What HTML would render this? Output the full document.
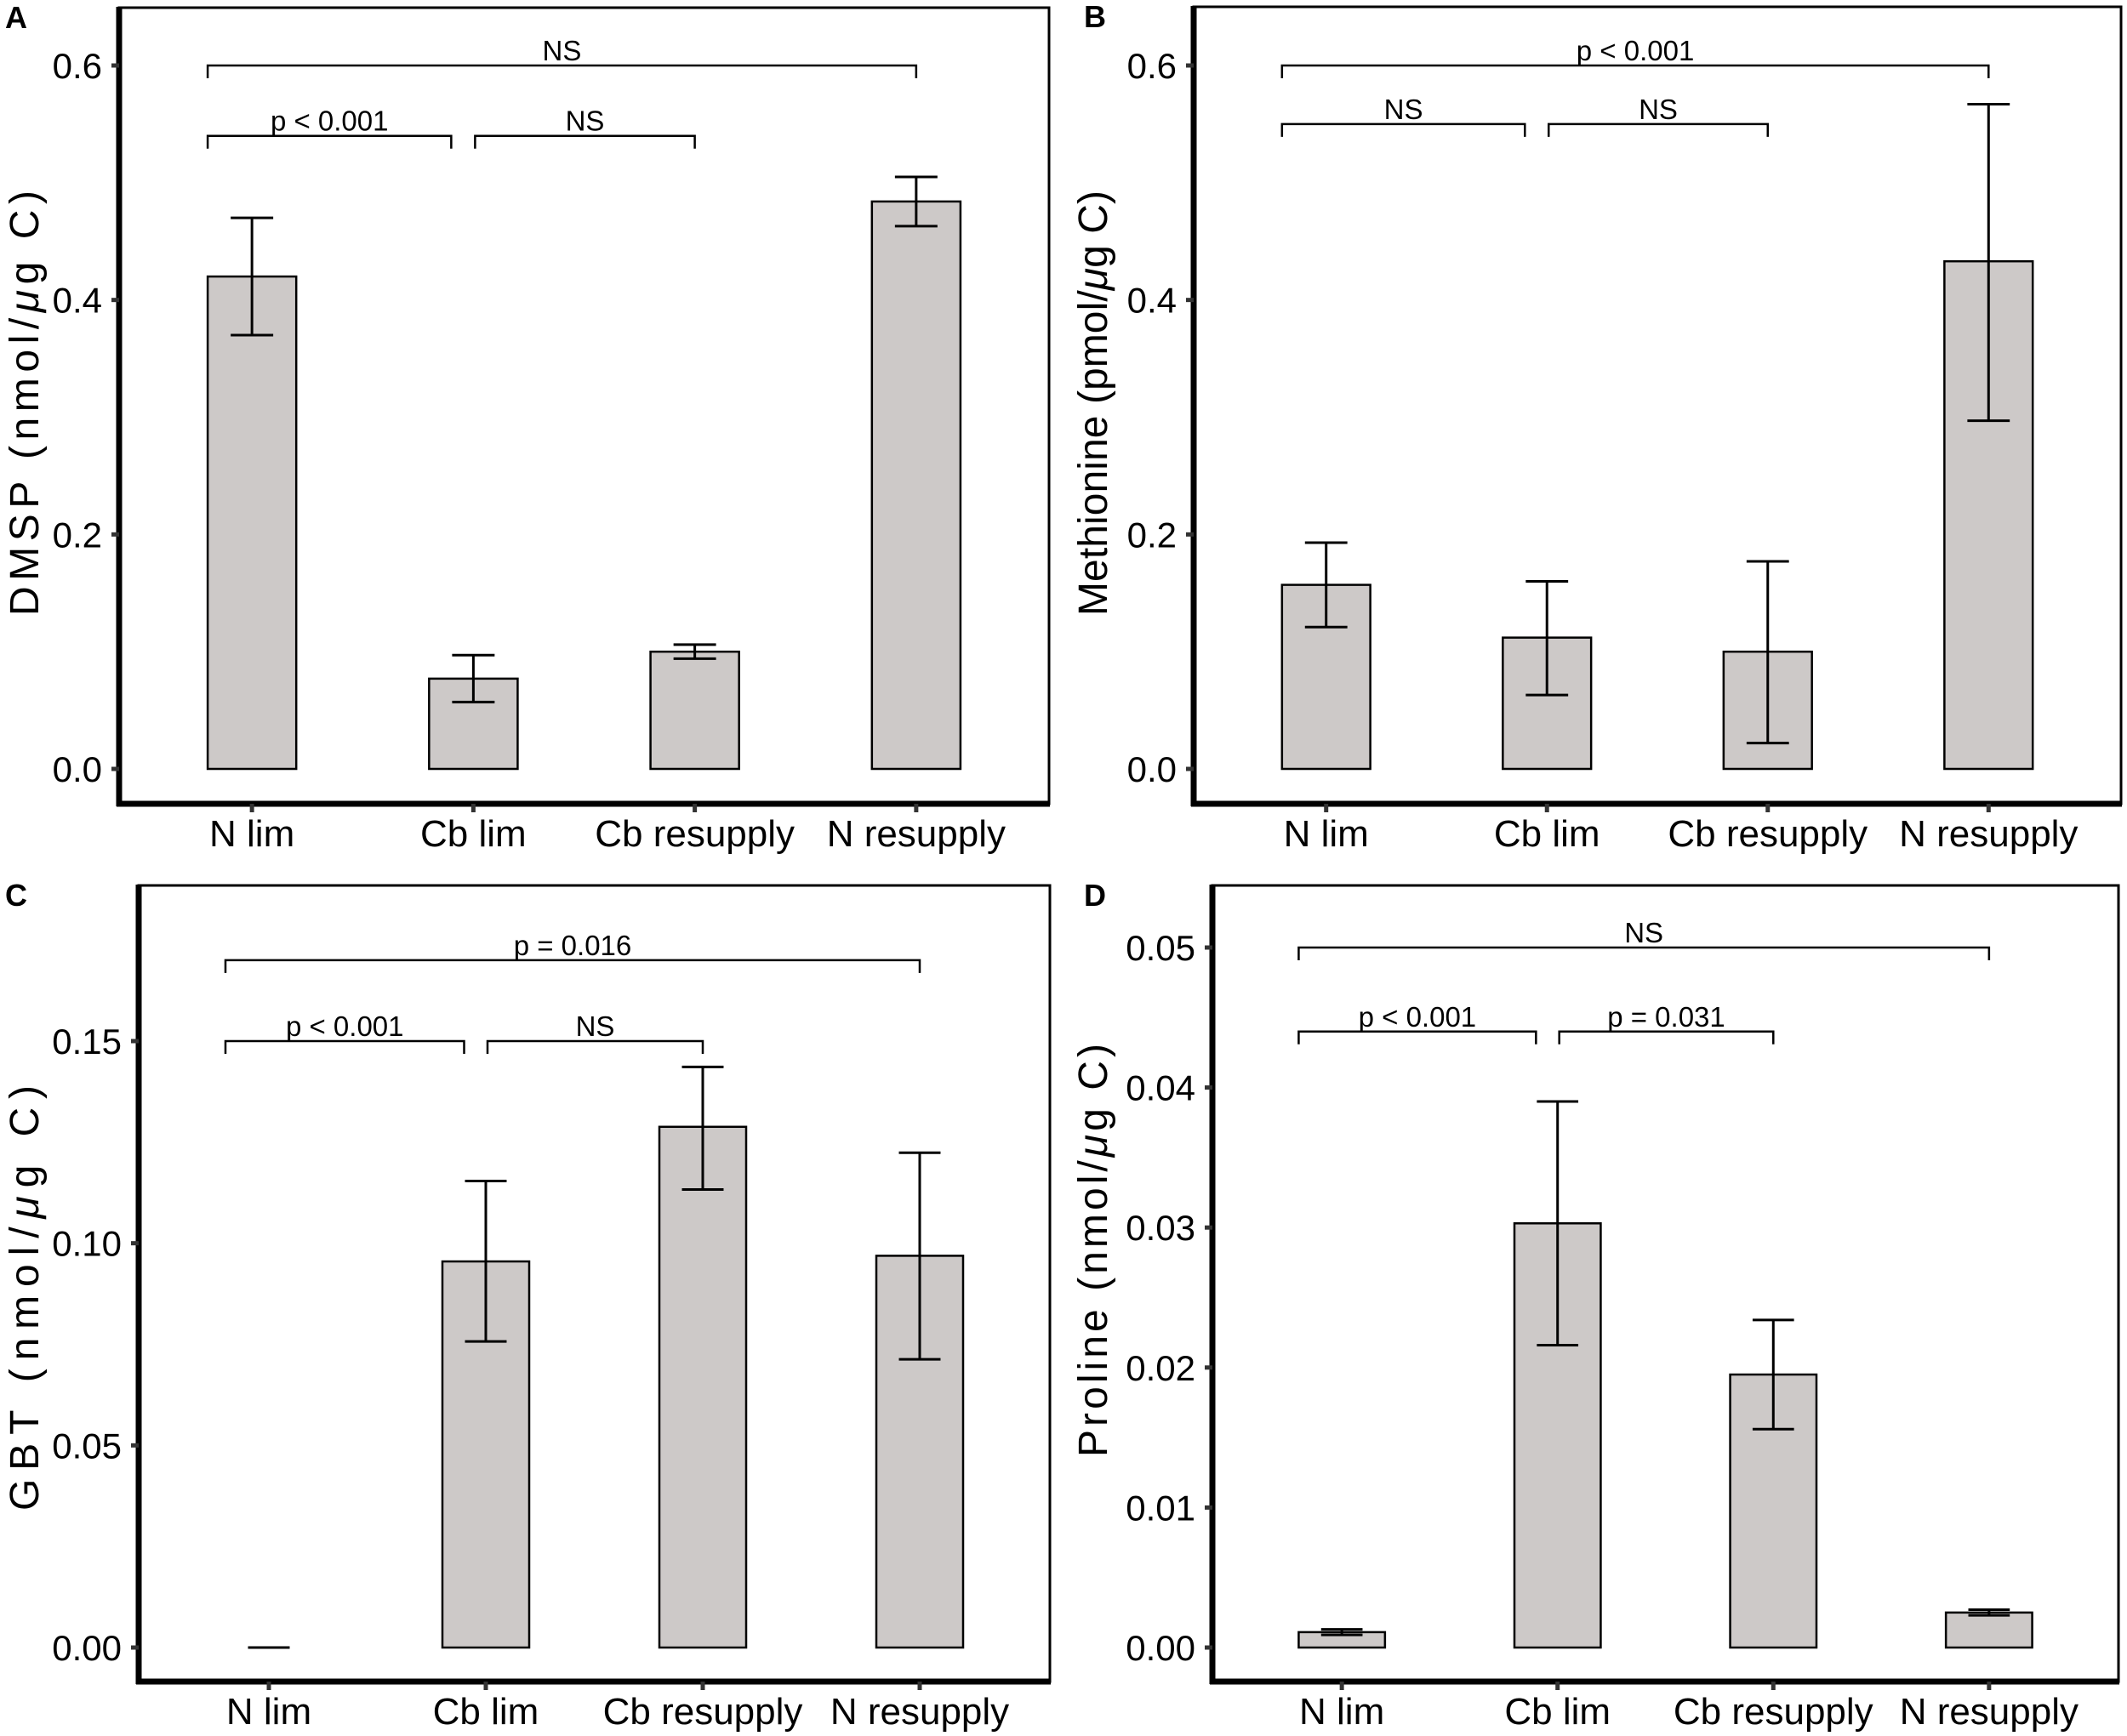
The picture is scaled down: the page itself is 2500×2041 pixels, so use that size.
<!DOCTYPE html>
<html><head><meta charset="utf-8">
<style>
html,body{margin:0;padding:0;background:#fff;}
svg{display:block;}
text{font-family:"Liberation Sans",Arial,sans-serif;fill:#000;}
</style></head>
<body>
<svg id="fig" width="2500" height="2041" viewBox="0 0 2500 2041" xmlns="http://www.w3.org/2000/svg"></svg>
<script>
const categories = ["N lim","Cb lim","Cb resupply","N resupply"];

const valuesA = [0.42, 0.077, 0.100, 0.484];
const errLoA  = [0.37, 0.057, 0.094, 0.463];
const errHiA  = [0.47, 0.097, 0.106, 0.505];
const ticksA  = [0.0, 0.2, 0.4, 0.6];
const tickLabelsA = ["0.0","0.2","0.4","0.6"];
const sigA = [0.6, 0.54, 0.54];
const sigLabelsA = ["NS","p < 0.001","NS"];

const valuesB = [0.157, 0.112, 0.100, 0.433];
const errLoB  = [0.121, 0.063, 0.022, 0.297];
const errHiB  = [0.193, 0.160, 0.177, 0.567];
const ticksB  = [0.0, 0.2, 0.4, 0.6];
const tickLabelsB = ["0.0","0.2","0.4","0.6"];
const sigB = [0.6, 0.55, 0.55];
const sigLabelsB = ["p < 0.001","NS","NS"];

const valuesC = [0.0, 0.0955, 0.1288, 0.0969];
const errLoC  = [0.0, 0.0757, 0.1133, 0.0713];
const errHiC  = [0.0, 0.1154, 0.1436, 0.1224];
const ticksC  = [0.0, 0.05, 0.10, 0.15];
const tickLabelsC = ["0.00","0.05","0.10","0.15"];
const sigC = [0.17, 0.15, 0.15];
const sigLabelsC = ["p = 0.016","p < 0.001","NS"];

const valuesD = [0.0011, 0.0303, 0.0195, 0.0025];
const errLoD  = [0.0009, 0.0216, 0.0156, 0.0023];
const errHiD  = [0.0013, 0.0390, 0.0234, 0.0027];
const ticksD  = [0.0, 0.01, 0.02, 0.03, 0.04, 0.05];
const tickLabelsD = ["0.00","0.01","0.02","0.03","0.04","0.05"];
const sigD = [0.05, 0.044, 0.044];
const sigLabelsD = ["NS","p < 0.001","p = 0.031"];

const NS = "http://www.w3.org/2000/svg";
const svg = document.getElementById('fig');
function mk(tag, attrs, parent){
  const e = document.createElementNS(NS, tag);
  for (const k in attrs) e.setAttribute(k, attrs[k]);
  (parent||svg).appendChild(e);
  return e;
}

function panel(cfg){
  const g = mk('g', {});
  
  
  const L = cfg.left, R = cfg.right, T = cfg.top, B = cfg.bottom;
  const W = R - L;
  const y = v => cfg.y0 - v * (cfg.y0 - cfg.yTopPx) / cfg.yTopVal;
  const step = W / 4.2;
  const x = i => L + step * (0.6 + i);
  const bw = step * 0.4;

  const lt = mk('text', {x: cfg.labelX, y: T + 24, 'font-size': 36, 'font-weight': 'bold'}, g);
  lt.textContent = cfg.letter;
  
  

  const fr = mk('rect', {x: L, y: T, width: W, height: B - T, fill: 'none', stroke: '#000', 'stroke-width': 3}, g);
  
  
  const ya = mk('line', {x1: L, y1: T - 1, x2: L, y2: B + 3, stroke: '#000', 'stroke-width': 7}, g);
  
  
  const xa = mk('line', {x1: L - 3, y1: B, x2: R + 1, y2: B, stroke: '#000', 'stroke-width': 7}, g);
  
  

  cfg.ticks.forEach((t, i) => {
    const ty = y(t);
    const tk = mk('line', {x1: L - 9, y1: ty, x2: L, y2: ty, stroke: '#333', 'stroke-width': 5}, g);
    
    
    const tl = mk('text', {x: L - 20, y: ty + 15, 'font-size': 42, 'text-anchor': 'end'}, g);
    tl.textContent = cfg.tickLabels[i];
    
    
  });

  const yt = mk('text', {x: 0, y: 0, 'font-size': 48, 'text-anchor': 'middle', textLength: cfg.titleLen, lengthAdjust: 'spacing', transform: `translate(${cfg.titleX},${cfg.titleY}) rotate(-90)`}, g);
  
  
  yt.appendChild(document.createTextNode(cfg.title[0]));
  const mu = mk('tspan', {'font-style': 'italic'}, yt); mu.textContent = 'μ';
  yt.appendChild(document.createTextNode(cfg.title[1]));

  categories.forEach((c, i) => {
    const cx = x(i);
    const tk = mk('line', {x1: cx, y1: B, x2: cx, y2: B + 10, stroke: '#333', 'stroke-width': 5}, g);
    
    
    const cl = mk('text', {x: cx, y: B + 50, 'font-size': 44, 'text-anchor': 'middle'}, g);
    cl.textContent = c;
    
    

    const v = cfg.values[i];
    const top = y(v), base = y(0);
    const bar = mk('rect', {x: cx - bw/2, y: top, width: bw, height: Math.max(base - top, 0), fill: '#cdc9c8', stroke: '#000', 'stroke-width': 2.5}, g);
    
    

    const eg = mk('g', {stroke: '#000', 'stroke-width': 3}, g);
    
    
    const hy = y(cfg.hi[i]), ly = y(cfg.lo[i]);
    const cw = bw * 0.48;
    mk('line', {x1: cx, y1: hy, x2: cx, y2: ly}, eg);
    mk('line', {x1: cx - cw/2, y1: hy, x2: cx + cw/2, y2: hy}, eg);
    mk('line', {x1: cx - cw/2, y1: ly, x2: cx + cw/2, y2: ly}, eg);
  });

  const spans = [[x(0) - bw/2, x(3)], [x(0) - bw/2, x(1) - bw*0.25], [x(1) + 2, x(2)]];
  spans.forEach((s, k) => {
    const by = y(cfg.sig[k]);
    const bg = mk('g', {}, g);
    
    
    mk('path', {d: `M${s[0]},${by+15} V${by} H${s[1]} V${by+15}`, fill: 'none', stroke: '#000', 'stroke-width': 2.5}, bg);
    const st = mk('text', {x: (s[0] + s[1]) / 2, y: by - 6, 'font-size': 33, 'text-anchor': 'middle'}, bg);
    st.textContent = cfg.sigLabels[k];
    
    
  });
}

panel({letter:'A', left:140, right:1233, top:9, bottom:945, y0:904, yTopPx:77, yTopVal:0.6,
  labelX:6, titleX:45, titleY:474, titleLen:500, title:['DMSP  (nmol/','g C)'],
  values:valuesA, lo:errLoA, hi:errHiA, ticks:ticksA, tickLabels:tickLabelsA, sig:sigA, sigLabels:sigLabelsA});
panel({letter:'B', left:1403, right:2493, top:8, bottom:945, y0:904, yTopPx:77, yTopVal:0.6,
  labelX:1274, titleX:1301, titleY:474, titleLen:500, title:['Methionine (pmol/','g C)'],
  values:valuesB, lo:errLoB, hi:errHiB, ticks:ticksB, tickLabels:tickLabelsB, sig:sigB, sigLabels:sigLabelsB});
panel({letter:'C', left:163, right:1234, top:1041, bottom:1977, y0:1937, yTopPx:1224, yTopVal:0.15,
  labelX:6, titleX:45, titleY:1526, titleLen:500, title:['GBT  (nmol/','g C)'],
  values:valuesC, lo:errLoC, hi:errHiC, ticks:ticksC, tickLabels:tickLabelsC, sig:sigC, sigLabels:sigLabelsC});
panel({letter:'D', left:1425, right:2490, top:1041, bottom:1977, y0:1937, yTopPx:1114, yTopVal:0.05,
  labelX:1274, titleX:1301, titleY:1470, titleLen:486, title:['Proline (nmol/','g C)'],
  values:valuesD, lo:errLoD, hi:errHiD, ticks:ticksD, tickLabels:tickLabelsD, sig:sigD, sigLabels:sigLabelsD});
</script>
</body></html>
